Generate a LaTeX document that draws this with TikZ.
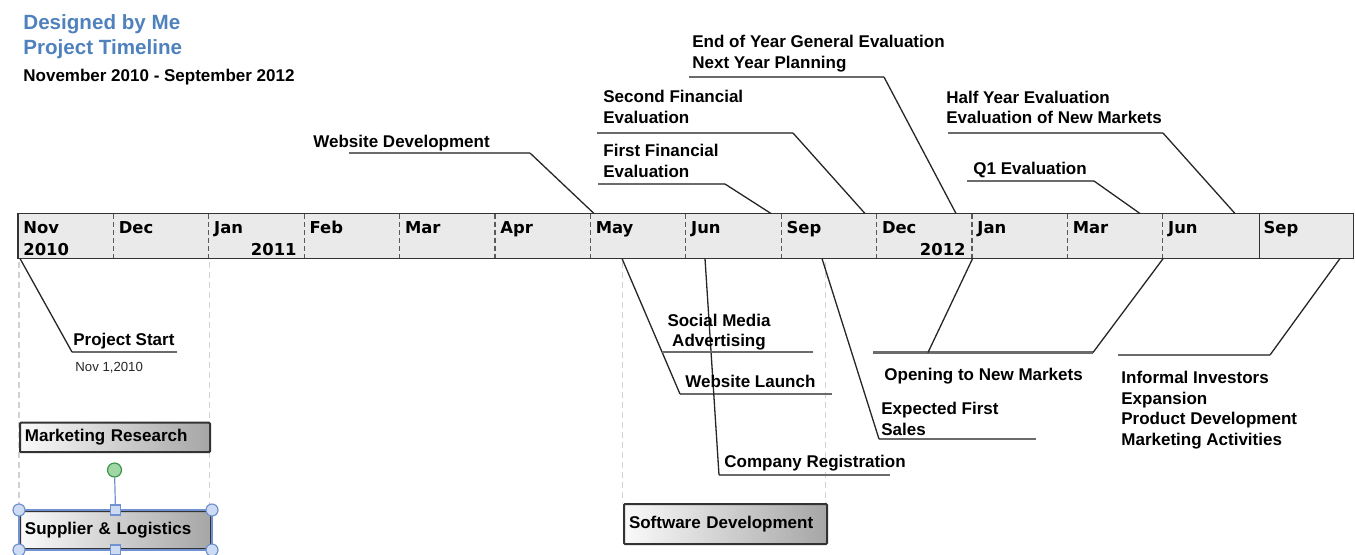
\documentclass[tikz,border=0pt]{standalone}
\usepackage{fontspec}
\setmainfont{Liberation Sans}
\newfontfamily\monthfont{DejaVu Sans}
\usetikzlibrary{positioning}
\definecolor{titleblue}{RGB}{79,129,189}
\definecolor{barfill}{RGB}{234,234,234}
\definecolor{handleblue}{RGB}{112,146,208}
\definecolor{handlefill}{RGB}{205,219,243}
\definecolor{knobgreen}{RGB}{60,150,75}
\definecolor{knobfill}{RGB}{160,215,165}

\begin{document}
\begin{tikzpicture}[
    x=0.5pt, y=-0.5pt,
    heading/.style={anchor=base west, inner sep=0pt, text=titleblue, font=\bfseries\fontsize{10.3}{12}\selectfont},
    milestone/.style={anchor=base west, inner sep=0pt, align=left, font=\bfseries\fontsize{8.5}{10.2}\selectfont},
    note/.style={anchor=base west, inner sep=0pt, text=black!85, font=\fontsize{6.6}{8}\selectfont},
    monthtext/.style={anchor=base west, inner sep=0pt, font=\monthfont\bfseries\fontsize{8.2}{10}\selectfont},
    phase/.style={anchor=north west, draw=black!80, line width=1pt, rounded corners=0.5pt,
                  left color=black!2, middle color=black!10, right color=black!35,
                  inner xsep=2.5pt, align=left, font=\bfseries\fontsize{8.5}{10.2}\selectfont},
    lead/.style={black!85, line width=0.65pt},
    under/.style={black!58, line width=1.3pt},
    divider/.style={black!65, line width=0.6pt, dash pattern=on 2.5pt off 1.5pt},
    guide/.style={black!18, line width=0.75pt, dash pattern=on 3pt off 2pt},
    handle/.style={draw=handleblue, fill=handlefill, line width=0.6pt},
    grip/.style={handle, minimum size=5pt, inner sep=0pt}
    ]
\useasboundingbox (0,0) rectangle (1356,554);
%
\node[heading] (title) at (23,29) {Designed by Me};
\node[heading] (subject) at (23,54) {Project Timeline};
\node[milestone] (period) at (23,81) {November 2010 - September 2012};
%
\draw[guide] (19,262) -- (19,510);
\draw[guide] (209.3,262) -- (209.3,510);
\draw[guide] (622.5,262) -- (622.5,503);
\draw[guide] (825.5,262) -- (825.5,503);
%
\draw[fill=barfill, draw=black!80, line width=0.75pt] (18,213.5) rectangle (1353.6,258.5);
\foreach \i in {1,...,12}
  \draw[divider] ({18+95.4*\i},214) -- ({18+95.4*\i},258);
\draw[black!80, line width=0.75pt] (1259.4,213.5) -- (1259.4,258.5);
\foreach \mon [count=\i from 0] in {Nov,Dec,Jan,Feb,Mar,Apr,May,Jun,Sep,Dec,Jan,Mar,Jun,Sep}
  \node[monthtext] (m\i) at ({23+95.4*\i},233) {\mon};
\node[monthtext] (y2010) at (23,255) {2010};
\node[monthtext, anchor=base east] (y2011) at (297,255) {2011};
\node[monthtext, anchor=base east] (y2012) at (966,255) {2012};
%
\foreach \n/\sx/\kx/\ky/\tx/\ty in {
    webdev/349/530/153/594/213.5, firstfin/598/725/184/771/213.5,
    secondfin/597/793/133/865/213.5, endyear/689/884/77/956/213.5,
    quarter/967/1094/181/1140/213.5, halfyear/948/1163/133/1235/213.5,
    start/177/72/352/20/258.5, launch/832/680/394/622/258.5,
    register/890/719/475/705/258.5, sales/1036/879/439/822/258.5,
    investors/1118/1270/355/1340/258.5, markets/873/1093/352.5/1163.2/258.5}{
  \coordinate (\n-s) at (\sx,\ky);
  \coordinate (\n-k) at (\kx,\ky);
  \coordinate (\n-t) at (\tx,\ty);
  \draw[under] (\n-s) -- (\n-k);
  \draw[lead] (\n-k) -- (\n-t);
}
\coordinate (social-s) at (662,352);
\coordinate (social-k) at (813,352);
\draw[under] (social-s) -- (social-k);
\coordinate (markets-j) at (928,352.5);
\coordinate (markets-u) at (972.6,258.5);
\draw[lead] (markets-j) -- (markets-u);
%
\node[milestone] (webdev) at (313,147) {Website Development};
\node[milestone] (firstfin) at (603,177) {First Financial\\Evaluation};
\node[milestone] (secondfin) at (603,123) {Second Financial\\Evaluation};
\node[milestone] (endyear) at (692,68) {End of Year General Evaluation\\Next Year Planning};
\node[milestone] (quarter) at (973,174) {Q1 Evaluation};
\node[milestone] (halfyear) at (946,123.5) {Half Year Evaluation\\Evaluation of New Markets};
\node[milestone] (start) at (73,345) {Project Start};
\node[note] (startdate) at (75,371.5) {Nov 1,2010};
\node[milestone, align=center, anchor=base] (social) at (719,346.5) {Social Media\\Advertising};
\node[milestone] (launch) at (685,387) {Website Launch};
\node[milestone] (register) at (724,467.5) {Company Registration};
\node[milestone] (sales) at (881,435) {Expected First\\Sales};
\node[milestone] (markets) at (884,380) {Opening to New Markets};
\node[milestone] (investors) at (1121,445) {Informal Investors\\Expansion\\Product Development\\Marketing Activities};
%
\node[phase, minimum width=95pt, minimum height=14.7pt, text width=90pt] (research) at (19,421.7) {Marketing Research};
\node[phase, minimum width=95.5pt, minimum height=19pt, text width=90.5pt] (supplier) at (19,510) {Supplier \& Logistics};
\node[phase, minimum width=101.5pt, minimum height=20pt, text width=96.5pt] (software) at (623,503) {Software Development};
%
\draw[handleblue, line width=0.6pt] (supplier.north west) rectangle (supplier.south east);
\node[draw=knobgreen, fill=knobfill, circle, line width=0.6pt, minimum size=7pt, inner sep=0pt] (rotate) at (114.5,470) {};
\draw[handleblue, line width=0.6pt] (rotate) -- (supplier.north);
\foreach \a in {north west, north east, south west, south east}
  \draw[handle] (supplier.\a) circle (3pt);
\node[grip] (grip-top) at (supplier.north) {};
\node[grip] (grip-bottom) at (supplier.south) {};
\end{tikzpicture}
\end{document}
